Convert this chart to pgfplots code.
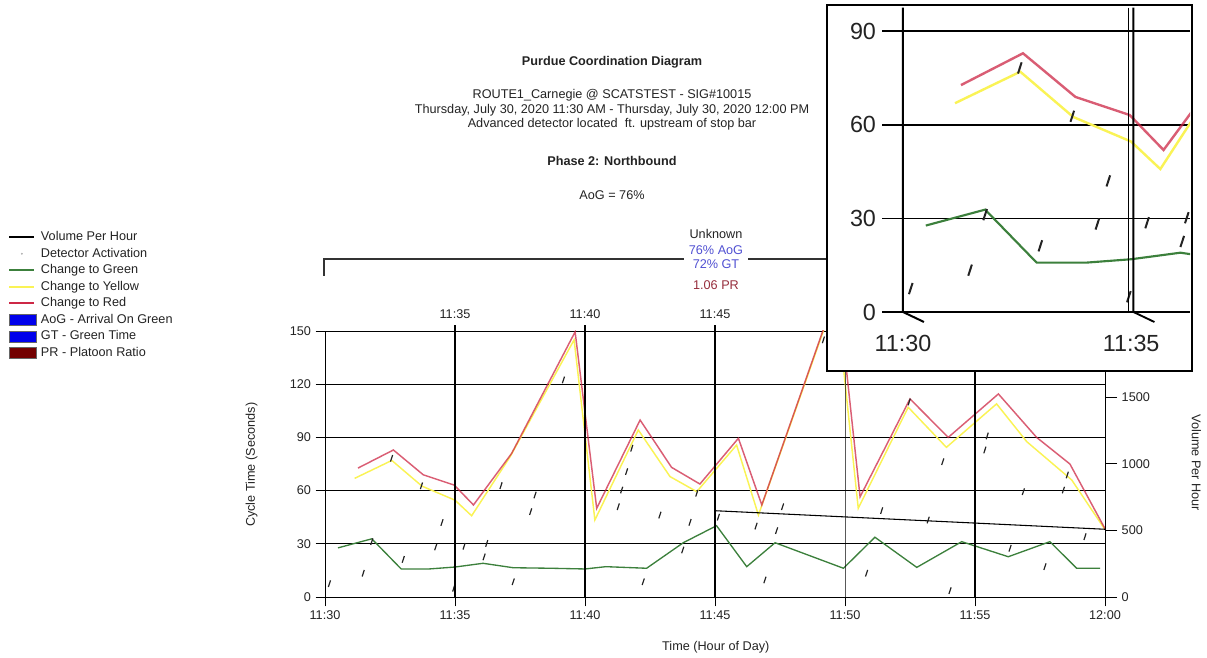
\documentclass[border=0pt]{standalone}
\usepackage{pgfplots}
\pgfplotsset{compat=1.18}
\usepackage{pgfplotstable}
\usepackage{fontspec}
\setmainfont{Liberation Sans}

\definecolor{cgreen}{RGB}{60,128,60}
\definecolor{cyellow}{RGB}{250,243,85}
\definecolor{cred}{RGB}{205,40,70}
\definecolor{caog}{RGB}{0,0,235}
\definecolor{cpr}{RGB}{115,0,0}
\definecolor{tblue}{RGB}{80,80,210}
\definecolor{tred}{RGB}{150,45,60}
\definecolor{ctxt}{RGB}{35,35,35}

\newcommand\fs{\fontsize{9.5}{11}\selectfont}
\newcommand\fb{\fontsize{17.5}{20}\selectfont}

\pgfplotsset{
 mainlegend/.style={legend image code/.code={\draw[mark repeat=2,mark phase=2,##1] plot coordinates {(0pt,0pt) (9.4pt,0pt) (18.8pt,0pt)};}},
 myarea/.style={legend image code/.code={\draw[##1] (0pt,-4pt) rectangle (20pt,4pt);}},
}

\pgfplotstableread{
x y
0.5 27.7
1.8 32.8
2.93 15.8
4.0 15.8
5.0 16.9
6.08 19.0
7.24 16.5
8.7 16.2
10.0 15.8
10.8 17.1
12.37 16.2
13.78 30.6
15.06 40.2
16.22 17.1
17.31 30.6
19.94 16.2
21.15 33.7
22.76 16.7
24.49 31.2
26.28 22.7
27.88 31.2
28.91 16.2
29.81 16.2
}\greentab

\pgfplotstableread{
x y
1.14 66.9
2.57 77.0
3.73 62.5
5.0 54.6
5.64 45.8
7.12 79.1
9.58 145
10.38 43.4
12.05 94.2
13.27 67.9
14.3 59.4
15.83 85.7
16.67 46.2
19.65 170
20.51 50.0
22.43 107
23.9 84.4
25.83 108.9
26.99 87.6
28.72 66
30 38
}\yellowtab

\pgfplotstableread{
x y
1.27 72.7
2.63 82.9
3.78 68.9
4.97 63.1
5.71 51.9
7.18 81.0
9.62 149.5
10.45 50.0
12.12 99.8
13.33 73.1
14.42 63.7
15.9 89.5
16.8 51.9
19.72 174
20.58 56.5
22.5 111.7
23.97 90
25.9 114.5
27.37 90
28.65 75
30 38.5
}\redtab

\pgfplotstableread{
x y
15 647
30 508
}\voltab

\pgfplotstableread{
x y
0.17 7.5
1.47 13.4
1.8 31.2
2.56 78.2
3.01 21.2
3.71 62.7
4.26 28.2
4.5 42
4.95 4.9
5.35 28.6
6.12 22.6
6.22 30.2
6.77 62.8
7.24 8.6
7.91 48.1
8.08 57.5
9.17 122.4
11.28 50.9
11.41 60.3
11.6 70.7
11.8 83.9
12.24 8.6
12.88 46.2
13.76 26.5
14.04 42.1
14.3 58.5
15.13 45
16.58 40
16.92 9.6
17.37 37.4
17.6 50.9
19.17 145
20.83 13.4
21.41 48.7
22.47 110
23.2 43.4
23.76 76.3
24.04 3.6
25.38 82.9
25.47 90.8
26.35 27.5
26.86 59.4
27.69 17.1
28.4 60.3
28.55 68.8
29.23 34
}\dettab

\begin{document}
\begin{tikzpicture}[x=0.75pt,y=0.75pt]
\path (0,0) rectangle (1207,657);

% ---- titles ----
\begin{scope}[every node/.style={font=\fs, text=ctxt}]
\node[font=\fs\bfseries] at (612,595) {Purdue Coordination Diagram};
\node at (612,562) {ROUTE1\_Carnegie @ SCATSTEST - SIG\#10015};
\node at (612,547) {Thursday, July 30, 2020 11:30 AM - Thursday, July 30, 2020 12:00 PM};
\node at (612,533) {Advanced detector located\ \ ft. upstream of stop bar};
\node[font=\fs\bfseries] at (612,496) {Phase 2: Northbound};
\node at (612,462) {AoG = 76\%};
\end{scope}

% ---- main axis (cycle time) ----
\begin{axis}[
  at={(243.75pt,45pt)}, anchor=south west, scale only axis,
  width=585pt, height=199.5pt,
  xmin=0, xmax=30, ymin=0, ymax=150,
  clip mode=individual,
  xtick={0,5,...,30},
  xticklabels={11:30,11:35,11:40,11:45,11:50,11:55,12:00},
  ytick={0,30,...,150},
  ymajorgrids, grid style={black, line width=0.6pt},
  axis line style={black, line width=0.6pt},
  tick style={black, line width=0.6pt},
  tick align=outside, major tick length=7pt,
  xtick pos=bottom, ytick pos=left,
  ticklabel style={font=\fs, text=ctxt},
  /pgf/number format/assume math mode=true,
  xlabel={Time (Hour of Day)}, ylabel={Cycle Time (Seconds)},
  label style={font=\fs, text=ctxt},
  xlabel style={at={(axis description cs:0.501,-0.188)}, anchor=center},
  ylabel style={at={(axis description cs:-0.094,0.497)}, anchor=center},
  mainlegend,
  legend style={at={(axis description cs:-0.4115,1.391)}, anchor=north west,
     draw=none, fill=none, font=\fs, text=ctxt, row sep=1.4pt, column sep=2.5pt,
     nodes={inner sep=1pt, text height=7pt, text depth=2pt}},
  legend cell align=left,
]
\addlegendimage{black, line width=1.6pt}
\addlegendentry{Volume Per Hour}
\addlegendimage{only marks, mark=*, mark size=0.5pt, gray!60}
\addlegendentry{Detector Activation}
\addlegendimage{cgreen, line width=1.6pt}
\addlegendentry{Change to Green}
\addlegendimage{cyellow, line width=1.6pt}
\addlegendentry{Change to Yellow}
\addlegendimage{cred, line width=1.6pt}
\addlegendentry{Change to Red}
\addlegendimage{myarea, fill=caog, draw=black!60}
\addlegendentry{AoG - Arrival On Green}
\addlegendimage{myarea, fill=caog, draw=black!60}
\addlegendentry{GT - Green Time}
\addlegendimage{myarea, fill=cpr, draw=black!60}
\addlegendentry{PR - Platoon Ratio}

\addplot[forget plot, cgreen, line width=1pt] table {\greentab};
\addplot[forget plot, cyellow, line width=1.1pt] table {\yellowtab};
\addplot[forget plot, cred, opacity=0.75, line width=1.1pt] table {\redtab};
\addplot[forget plot, only marks, mark=|, mark size=2.6pt,
   mark options={rotate=-18, line width=0.9pt, draw=ctxt}] table {\dettab};

\draw[line width=1.5pt] (axis cs:5,0) -- (axis cs:5,150) -- ++(0,4.5pt);
\draw[line width=1.5pt] (axis cs:10,0) -- (axis cs:10,150) -- ++(0,4.5pt);
\draw[line width=1.5pt] (axis cs:15,0) -- (axis cs:15,150) -- ++(0,4.5pt);
\draw[line width=0.7pt] (axis cs:20,0) -- (axis cs:20,150) -- ++(0,4.5pt);
\draw[line width=1.5pt] (axis cs:25,0) -- (axis cs:25,150) -- ++(0,4.5pt);
\end{axis}

% ---- right axis (volume) ----
\begin{axis}[
  at={(243.75pt,45pt)}, anchor=south west, scale only axis,
  width=585pt, height=199.5pt,
  xmin=0, xmax=30, ymin=0, ymax=1995,
  axis x line=none, axis y line*=right,
  axis line style={-, black, line width=0.6pt},
  tick style={black, line width=0.6pt},
  tick align=outside, major tick length=9pt,
  ytick={0,500,1000,1500}, yticklabels={0,500,1000,1500},
  ticklabel style={font=\fs, text=ctxt},
  ylabel={Volume Per Hour},
  label style={font=\fs, text=ctxt},
  ylabel style={at={(axis description cs:1.117,0.504)}, anchor=center, rotate=180},
]
\addplot[black, line width=0.8pt] table {\voltab};
\end{axis}

% ---- top time labels ----
\begin{scope}[every node/.style={font=\fs, text=ctxt}]
\node at (455,343) {11:35};
\node at (585,343) {11:40};
\node at (715,343) {11:45};
\node at (845,343) {11:50};
\node at (975,343) {11:55};
\end{scope}

% ---- plan annotation ----
\draw[line width=0.8pt, black!80] (324,381) -- (324,398) -- (684,398);
\draw[line width=0.8pt, black!80] (748,398) -- (1105,398) -- (1105,381);
\node[font=\fs, text=ctxt] at (716,423) {Unknown};
\node[font=\fs, text=tblue] at (716,406.5) {76\% AoG};
\node[font=\fs, text=tblue] at (716,392.5) {72\% GT};
\node[font=\fs, text=tred] at (716,371.5) {1.06 PR};

% ---- inset ----
\draw[fill=white, line width=1.8pt] (827,652) rectangle (1192,286);
\begin{axis}[
  at={(661.5pt,258.75pt)}, anchor=south west, scale only axis,
  width=231pt, height=228.2pt,
  xmin=-0.46, xmax=6.29, ymin=0, ymax=97.5,
  clip mode=individual,
  axis line style={draw=none},
  xtick={0,5}, xticklabels={11:30,11:35},
  ytick={0,30,60,90},
  xtick pos=bottom, ytick pos=left,
  ymajorgrids, grid style={black, line width=1.3pt},
  tick style={draw=none}, major tick length=0pt,
  ticklabel style={font=\fb, text=ctxt},
  xticklabel style={yshift=-14pt},
  yticklabel style={xshift=-1pt},
  /pgf/number format/assume math mode=true,
]
\addplot[cgreen, line width=1.6pt] table {\greentab};
\addplot[cyellow, line width=1.8pt] table {\yellowtab};
\addplot[cred, opacity=0.75, line width=1.8pt] table {\redtab};
\addplot[only marks, mark=|, mark size=4.4pt,
   mark options={rotate=-18, line width=1.5pt, draw=ctxt}] table {\dettab};
\draw[line width=1.5pt] (axis cs:0,97.5) -- (axis cs:0,0) -- ++(0,-7.5pt);
\draw[line width=1.2pt] (axis cs:4.94,97.5) -- (axis cs:4.94,0);
\draw[line width=1.4pt] (axis cs:5.05,97.5) -- (axis cs:5.05,0) -- ++(0,-7.5pt);
\end{axis}
\end{tikzpicture}
\end{document}
